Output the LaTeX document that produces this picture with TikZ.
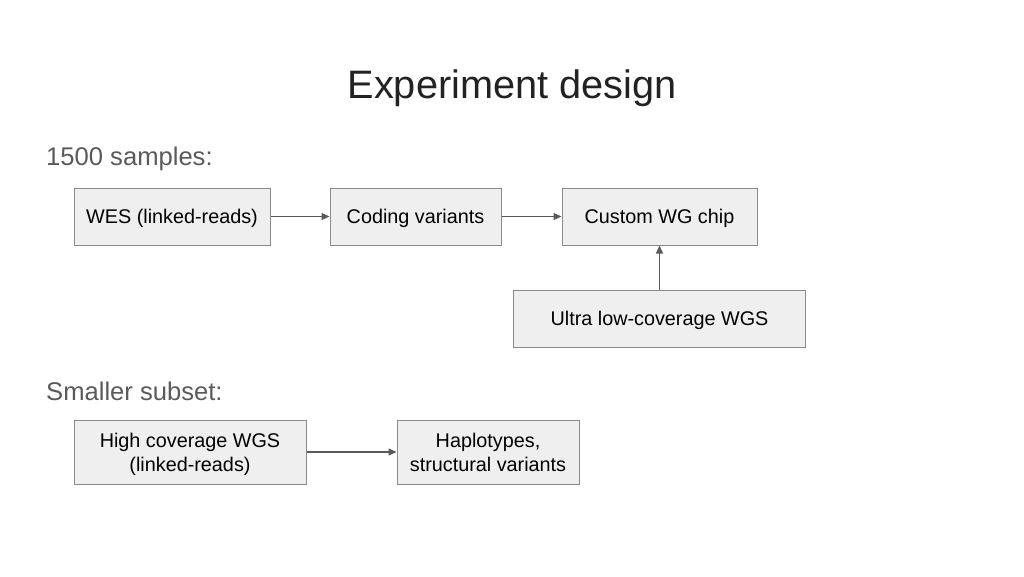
\documentclass[tikz,border=0pt]{standalone}
\usepackage{fontspec}
\setmainfont{Liberation Sans}
\usepackage{tikz}
\usetikzlibrary{arrows.meta}
\usepackage{xcolor}
\definecolor{BoxFill}{HTML}{EFEFEF}
\definecolor{BoxLine}{HTML}{8A8A8A}
\definecolor{ArrowGray}{HTML}{5A5A5A}
\definecolor{LabelGray}{HTML}{5A5A5A}
\definecolor{TitleBlack}{HTML}{222222}

\tikzset{
  StageBox/.style={draw=BoxLine, fill=BoxFill, line width=1pt, inner sep=0pt,
    align=center, font=\fontsize{19.8}{24}\selectfont, text=black, text depth=0pt},
  SectionLabel/.style={anchor=west, inner sep=0pt, text=LabelGray,
    font=\fontsize{25.6}{30}\selectfont},
  FlowArrow/.style={draw=ArrowGray, line width=1.2pt,
    -{Triangle[length=8pt,width=7pt]}}
}

\begin{document}
\begin{tikzpicture}[x=1pt,y=-1pt]
    \useasboundingbox (0,0) rectangle (1024,576);

    \node[text=TitleBlack, font=\fontsize{39.7}{44}\selectfont] (Title) at (512,88) {Experiment design};

    \node[SectionLabel] (AllSamples) at (46,158.5) {1500 samples:};
    \node[SectionLabel] (Subset) at (46,391.5) {Smaller subset:};

    \node[StageBox, minimum width=196, minimum height=57] (Wes) at (172,216.5) {WES (linked-reads)};
    \node[StageBox, minimum width=171, minimum height=57] (Coding) at (415.5,216.5) {Coding variants};
    \node[StageBox, minimum width=195, minimum height=57] (Chip) at (659.5,216.5) {Custom WG chip};
    \node[StageBox, minimum width=292, minimum height=57] (LowWgs) at (659.5,318.5) {Ultra low-coverage WGS};
    \node[StageBox, minimum width=232, minimum height=64] (HighWgs) at (190,452) {High coverage WGS\\(linked-reads)};
    \node[StageBox, minimum width=182, minimum height=64] (Haplo) at (488,452) {Haplotypes,\\structural variants};

    \draw[FlowArrow] (Wes) -- (Coding);
    \draw[FlowArrow] (Coding) -- (Chip);
    \draw[FlowArrow] (LowWgs) -- (Chip);
    \draw[FlowArrow] (HighWgs) -- (Haplo);
\end{tikzpicture}
\end{document}
